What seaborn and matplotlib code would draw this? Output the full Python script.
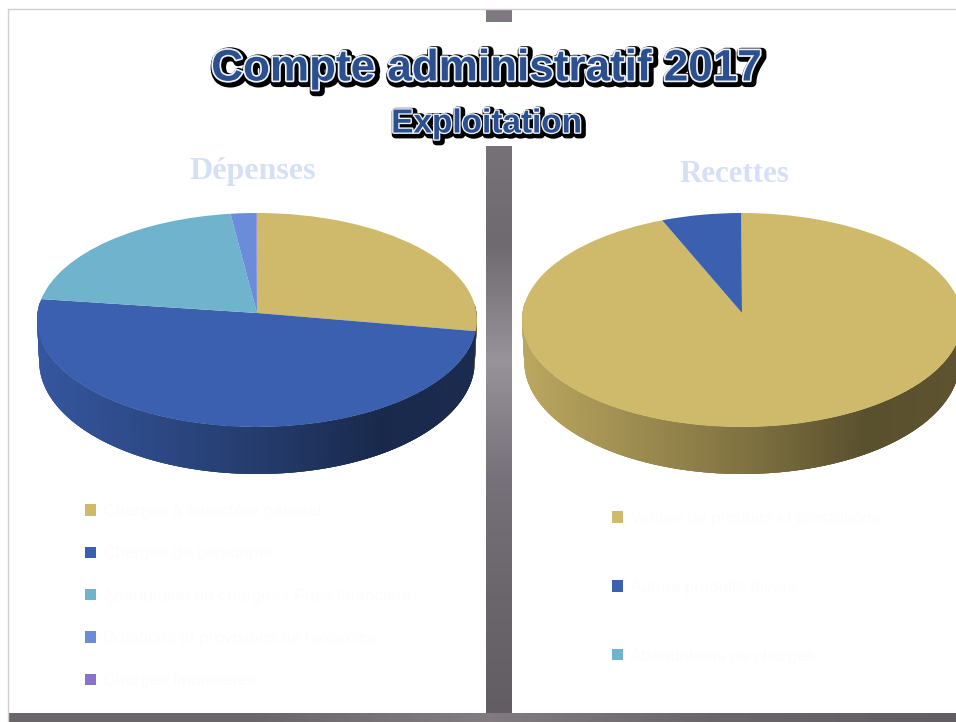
import numpy as np
import matplotlib
matplotlib.use("Agg")
import matplotlib.pyplot as plt
import matplotlib.patheffects as pe
from matplotlib.transforms import Transform
from matplotlib.collections import PolyCollection
import seaborn as sns

title = "Compte administratif 2017"
subtitle = "Exploitation"
dep_title = "Dépenses"
rec_title = "Recettes"

dep_labels = ["Charges à caractère général", "Charges de personnel",
              "Atténuation de charges / Frais financiers", "Dotations et provisions de l'exercice",
              "Charges financières"]
dep_values = [27.7, 49.4, 20.85, 2.0, 0.05]
dep_colors = ["#cfb96a", "#3b60b0", "#6fb3cc", "#6b8cd9", "#8872cc"]

rec_labels = ["Ventes de produits et prestations", "Autres produits divers", "Atténuations de charges"]
rec_values = [93.7, 6.25, 0.05]
rec_colors = ["#cfb96a", "#3b60b0", "#6fb3cc"]

bar_shades = ["#7f7a80", "#787379", "#6f6a70", "#98929a", "#76717a", "#6b666b", "#625d62"]
band_shades = ["#6a6569", "#6a6569", "#827c80", "#6a6569", "#625d62"]

sns.set_theme(style="white")
plt.rcParams["font.family"] = ["Liberation Sans", "DejaVu Sans"]

fig = plt.figure(figsize=(9.56, 7.22), dpi=100, facecolor="white")
ax = fig.add_axes([0, 0, 1, 1])


class Tilt(Transform):
    """Perspective view of the unit-disc pie, in the canvas scale of the axes."""
    input_dims = 2
    output_dims = 2
    is_separable = False
    has_inverse = False

    def __init__(self, cx, cy, rx=219.5, up=100.0, down=114.0):
        super().__init__()
        self.cx, self.cy, self.rx = cx, cy, rx
        self.c = (down - up) / (down + up)
        self.a = up * (1 + self.c)

    def transform_non_affine(self, v):
        v = np.asarray(v, float)
        w = 1 + self.c * v[:, 1]
        return np.column_stack([self.cx + self.rx * v[:, 0] / w,
                                self.cy - self.a * v[:, 1] / w])


def shade(col, u):
    f = np.interp(u, [0, 0.5, 0.78, 1], [0.9, 0.62, 0.43, 0.45])
    return tuple(np.array(matplotlib.colors.to_rgb(col)) * f)


def draw_pie(values, colors, cx, cy):
    tilt = Tilt(cx, cy)
    wedges, _ = ax.pie(values, colors=colors, startangle=90, counterclock=False,
                       wedgeprops=dict(linewidth=0))
    for w in wedges:
        w.set_transform(tilt + ax.transData)
        w.set_zorder(4)
    # side wall: strips overlap the next one so that no seam shows
    edges = np.cumsum([0] + list(values)) / sum(values) * 360
    ang = np.arange(85, 275.01, 0.5)
    polys, cols = [], []
    for a0 in ang:
        t = np.radians([a0, a0 + 1.5])
        top = tilt.transform_non_affine(np.column_stack([np.sin(t), np.cos(t)]))
        bot = top.copy()
        bot[:, 0] = cx + (top[:, 0] - cx) * 0.99
        bot[:, 1] = top[:, 1] + 41 + 6 * np.clip(-np.cos(t), 0, 1)
        polys.append([top[0], top[1], bot[1], bot[0]])
        idx = min(np.searchsorted(edges, a0 + 0.25) - 1, len(colors) - 1)
        cols.append(shade(colors[idx], (top[:, 0].mean() - cx + 219) / 438))
    ax.add_collection(PolyCollection(polys, facecolors=cols, edgecolors="none",
                                     linewidths=0, zorder=3))
    return wedges


w_dep = draw_pie(dep_values, dep_colors, 257, 313)
w_rec = draw_pie(rec_values, rec_colors, 742, 313)

ax.set_aspect("auto")
ax.axis("off")

# frame and separators
bar = np.array(sns.blend_palette(bar_shades, 256))[:, None, :]
ax.imshow(bar, extent=(486, 512, 713, 9), aspect="auto", zorder=1)
band = np.array(sns.blend_palette(band_shades, 256))[None, :, :]
ax.imshow(band, extent=(8, 956, 722, 713), aspect="auto", zorder=1)
ax.fill_between([486, 512], 22, 146, color="white", lw=0, zorder=1.5)
ax.plot([8, 956], [9, 9], color="#cfcfcf", lw=1, zorder=2)
ax.plot([8, 8], [9, 722], color="#cfcfcf", lw=1, zorder=2)
ax.set_xlim(0, 956)
ax.set_ylim(722, 0)


def fancy(x, y, s, size, outer):
    ax.text(x, y, s, ha="center", va="center", fontsize=size, fontweight="bold",
            color="#2b4f8f", zorder=6, path_effects=[
                pe.Stroke(linewidth=outer + 1.5, foreground="#000000", offset=(1.5, -1.5)),
                pe.Stroke(linewidth=outer * 0.5, foreground="#eef3fb"),
                pe.Normal()])


fancy(486, 69, title, 31.7, 5)
fancy(487, 124, subtitle, 24, 4)
for x, y, s, size in [(253, 172, dep_title, 23), (734, 174, rec_title, 22.3)]:
    ax.text(x, y, s, ha="center", va="center", fontsize=size, fontweight="bold",
            family=["Liberation Serif", "DejaVu Serif"], color="#d6e0f5", zorder=6)

# legends, in near-white lettering like the reference
leg_kw = dict(frameon=False, fontsize=12.3, labelcolor="#fcfcfc", handlelength=0.65,
              handleheight=0.65, handletextpad=0.4, borderpad=0, borderaxespad=0,
              loc="upper left", bbox_transform=ax.transData)
leg1 = ax.legend(w_dep, dep_labels, bbox_to_anchor=(85, 504), labelspacing=1.6, **leg_kw)
ax.add_artist(leg1)
ax.legend(w_rec, rec_labels, bbox_to_anchor=(612, 511), labelspacing=3.15, **leg_kw)

fig.savefig("out.png", dpi=100, facecolor="white")
